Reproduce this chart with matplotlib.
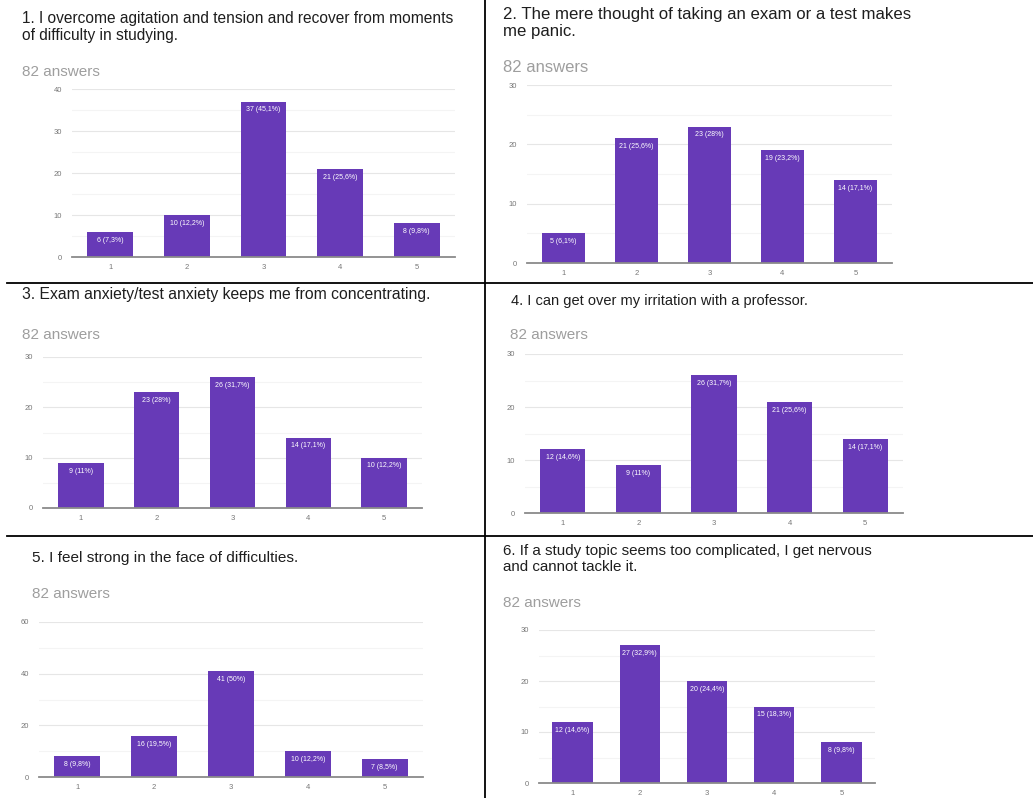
import matplotlib.pyplot as plt
from matplotlib.lines import Line2D
from matplotlib.ticker import MultipleLocator

plt.rcParams['font.family'] = ['Liberation Sans', 'DejaVu Sans']

W, H = 1033, 798

answers = [1, 2, 3, 4, 5]
total = 82

titles = [
    "1. I overcome agitation and tension and recover from moments\nof difficulty in studying.",
    "2. The mere thought of taking an exam or a test makes\nme panic.",
    "3. Exam anxiety/test anxiety keeps me from concentrating.",
    "4. I can get over my irritation with a professor.",
    "5. I feel strong in the face of difficulties.",
    "6. If a study topic seems too complicated, I get nervous\nand cannot tackle it.",
]

q1_counts = [6, 10, 37, 21, 8]
q2_counts = [5, 21, 23, 19, 14]
q3_counts = [9, 23, 26, 14, 10]
q4_counts = [12, 9, 26, 21, 14]
q5_counts = [8, 16, 41, 10, 7]
q6_counts = [12, 27, 20, 15, 8]
counts = [q1_counts, q2_counts, q3_counts, q4_counts, q5_counts, q6_counts]

y_max = [40, 30, 30, 30, 60, 30]
y_step = [10, 10, 10, 10, 20, 10]

# pixel layout of each panel: axes box (left, right, top, bottom), title pos, "answers" pos
axes_px = [
    (72, 455, 89, 257),
    (527, 892, 85, 263),
    (43, 422, 357, 508),
    (525, 903, 354, 513),
    (39, 423, 622, 777),
    (539, 875, 630, 783),
]
title_px = [(22, 11), (503, 7), (22, 287), (511, 294), (32, 551), (503, 544)]
title_size = [11.2, 12.1, 11.3, 10.5, 11.1, 10.9]
answers_px = [(22, 72), (503, 67), (22, 335), (510, 335), (32, 594), (503, 603)]
answers_size = [11, 12, 11, 11, 11, 11]

purple = '#673ab7'


def pct_label(v):
    p = '%.1f' % (v / total * 100)
    if p.endswith('.0'):
        p = p[:-2]
    return '%d (%s%%)' % (v, p.replace('.', ','))


fig = plt.figure(figsize=(W / 100, H / 100), dpi=100)
fig.patch.set_facecolor('white')

for i in range(6):
    l, r, t, b = axes_px[i]
    ax = fig.add_axes([l / W, 1 - b / H, (r - l) / W, (b - t) / H])
    bars = ax.bar(answers, counts[i], width=0.6, color=purple, zorder=3)
    for rect, v in zip(bars, counts[i]):
        ax.annotate(pct_label(v), (rect.get_x() + rect.get_width() / 2, v),
                    xytext=(0, -6), textcoords='offset points',
                    ha='center', va='center', color='white', fontsize=5)
    ax.set_xlim(0.5, 5.5)
    ax.set_ylim(0, y_max[i])
    ax.yaxis.set_major_locator(MultipleLocator(y_step[i]))
    ax.yaxis.set_minor_locator(MultipleLocator(y_step[i] / 2))
    ax.set_xticks(answers)
    ax.grid(axis='y', which='major', color='#e6e6e6', linewidth=0.8, zorder=0)
    ax.grid(axis='y', which='minor', color='#f4f4f4', linewidth=0.8, zorder=0)
    for s in ['top', 'right', 'left']:
        ax.spines[s].set_visible(False)
    ax.spines['bottom'].set_color('#8a8a8a')
    ax.spines['bottom'].set_linewidth(1.3)
    ax.spines['bottom'].set_zorder(4)
    ax.tick_params(axis='both', which='both', length=0, labelsize=5.5,
                   labelcolor='#777777')
    ax.tick_params(axis='y', pad=7)
    ax.tick_params(axis='x', pad=5)
    ax.set_facecolor('white')

    tx, ty = title_px[i]
    fig.text(tx / W, 1 - ty / H, titles[i], ha='left', va='top',
             fontsize=title_size[i], color='#1e1e1e', linespacing=1.15)
    ax_, ay_ = answers_px[i]
    fig.text(ax_ / W, 1 - ay_ / H, '%d answers' % total, ha='left', va='center',
             fontsize=answers_size[i], color='#9e9e9e')

# panel borders
fig.add_artist(Line2D([485 / W, 485 / W], [0, 1], color='black', linewidth=1.3))
fig.add_artist(Line2D([7 / W, 1], [1 - 282.5 / H, 1 - 282.5 / H], color='black', linewidth=1.3))
fig.add_artist(Line2D([7 / W, 1], [1 - 536 / H, 1 - 536 / H], color='black', linewidth=1.3))

fig.savefig('out.png', dpi=100)
